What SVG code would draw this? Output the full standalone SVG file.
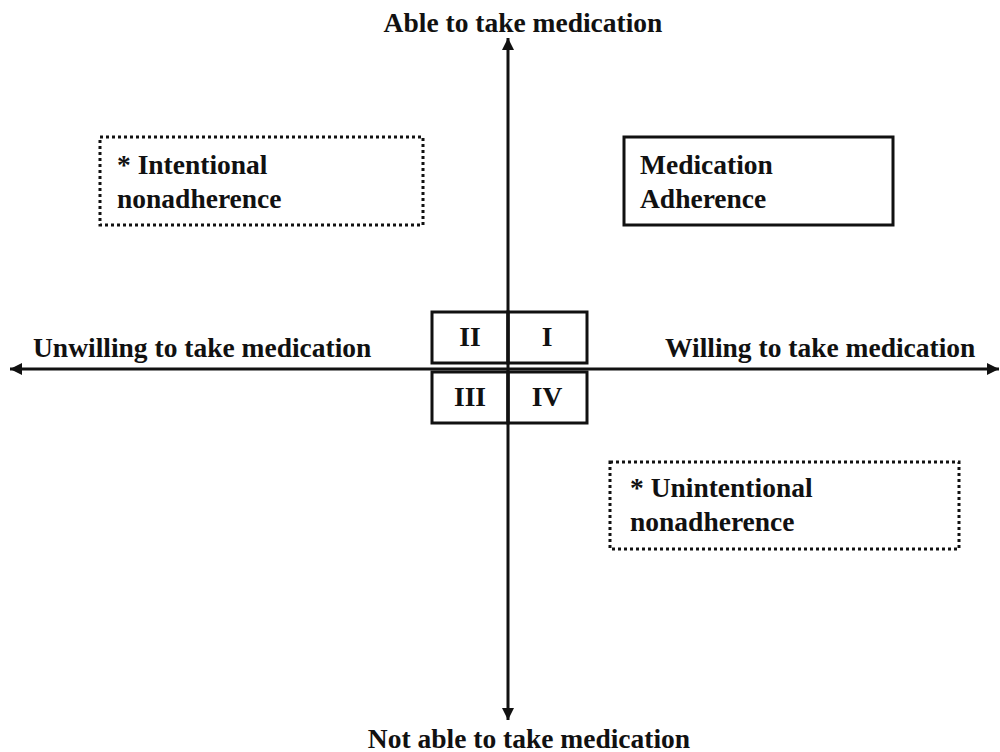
<svg xmlns="http://www.w3.org/2000/svg" width="1000" height="752" viewBox="0 0 1000 752">
  <style>
    text { font-family: "Liberation Serif", "Times New Roman", serif; font-weight: bold; font-size: 27.5px; fill: #111; }
    .box { fill: none; stroke: #111; stroke-width: 3; }
    .dotted { fill: none; stroke: #111; stroke-width: 3; stroke-dasharray: 3 3; }
    .axis { stroke: #111; stroke-width: 3; fill: none; }
    .mid { text-anchor: middle; }
  </style>
  <defs>
    <marker id="arrow" viewBox="0 0 10 10" refX="10" refY="5" markerWidth="4" markerHeight="4" orient="auto-start-reverse" markerUnits="strokeWidth">
      <path d="M0,0 L10,5 L0,10 z" fill="#111"/>
    </marker>
  </defs>

  <!-- axes -->
  <g id="connectors">
    <line class="axis" x1="508" y1="720" x2="508" y2="38" marker-end="url(#arrow)" marker-start="url(#arrow)"/>
    <line class="axis" x1="10" y1="369" x2="999" y2="369" marker-end="url(#arrow)" marker-start="url(#arrow)"/>
  </g>

  <!-- axis labels -->
  <g id="label-able"><text class="mid" x="523" y="32">Able to take medication</text></g>
  <g id="label-not-able"><text class="mid" x="529" y="748">Not able to take medication</text></g>
  <g id="label-unwilling"><text x="33" y="357">Unwilling  to take medication</text></g>
  <g id="label-willing"><text x="665" y="357">Willing to take medication</text></g>

  <!-- quadrant boxes -->
  <g id="quadrant-II">
    <rect class="box" x="432" y="312" width="76" height="51"/>
    <text class="mid" x="470" y="346">II</text>
  </g>
  <g id="quadrant-I">
    <rect class="box" x="508" y="312" width="79" height="51"/>
    <text class="mid" x="547" y="346">I</text>
  </g>
  <g id="quadrant-III">
    <rect class="box" x="432" y="372" width="76" height="51"/>
    <text class="mid" x="470" y="406">III</text>
  </g>
  <g id="quadrant-IV">
    <rect class="box" x="508" y="372" width="79" height="51"/>
    <text class="mid" x="547" y="406">IV</text>
  </g>

  <!-- outcome boxes -->
  <g id="intentional">
    <rect class="dotted" x="100" y="137" width="323" height="88"/>
    <text x="117" y="174">* Intentional</text>
    <text x="117" y="208">nonadherence</text>
  </g>
  <g id="adherence">
    <rect class="box" x="624" y="137" width="269" height="88"/>
    <text x="640" y="174">Medication</text>
    <text x="640" y="208">Adherence</text>
  </g>
  <g id="unintentional">
    <rect class="dotted" x="610" y="462" width="349" height="87"/>
    <text x="630" y="497">* Unintentional</text>
    <text x="630" y="531">nonadherence</text>
  </g>
</svg>
